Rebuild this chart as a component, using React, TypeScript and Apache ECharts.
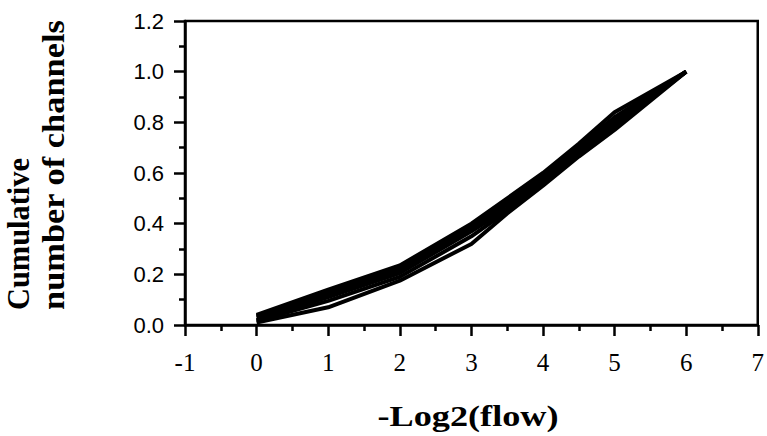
import React, { useEffect, useRef } from "react";
import * as echarts from "echarts";

const xValues = [0, 1, 2, 3, 3.5, 4, 4.5, 5, 6];
const run1 = [0.04, 0.14, 0.235, 0.4, 0.5, 0.6, 0.715, 0.84, 1.0];
const run2 = [0.035, 0.13, 0.225, 0.39, 0.49, 0.59, 0.705, 0.82, 1.0];
const run3 = [0.03, 0.12, 0.215, 0.38, 0.475, 0.58, 0.695, 0.81, 1.0];
const run4 = [0.02, 0.11, 0.205, 0.37, 0.46, 0.57, 0.685, 0.795, 1.0];
const run5 = [0.015, 0.095, 0.19, 0.35, 0.45, 0.56, 0.675, 0.78, 1.0];
const run6 = [0.01, 0.07, 0.175, 0.32, 0.44, 0.55, 0.665, 0.77, 1.0];
const runs = [run1, run2, run3, run4, run5, run6];

const xTitle = "-Log2(flow)";
const yTitle1 = "Cumulative";
const yTitle2 = "number of channels";

export default function App() {
  const ref = useRef<HTMLDivElement>(null);
  useEffect(() => {
    document.body.style.margin = "0";
    if (!ref.current) return;
    const chart = echarts.init(ref.current, null, { renderer: "svg" });
    const axisLine = { show: true, onZero: false, lineStyle: { color: "#000", width: 2.5 } };
    chart.setOption({
      animation: false,
      backgroundColor: "#fff",
      grid: {
        left: 185,
        right: 9,
        top: 21,
        bottom: 111,
        show: true,
        borderColor: "#000",
        borderWidth: 2.5,
        backgroundColor: "transparent",
      },
      xAxis: {
        type: "value",
        min: -1,
        max: 7,
        interval: 1,
        axisLine,
        axisTick: { show: true, length: 11, lineStyle: { color: "#000", width: 2.5 } },
        minorTick: { show: true, splitNumber: 2, length: 6, lineStyle: { color: "#000", width: 2.5 } },
        splitLine: { show: false },
        axisLabel: {
          color: "#000",
          fontFamily: "Liberation Serif",
          fontSize: 25,
          margin: 25,
        },
      },
      yAxis: {
        type: "value",
        min: 0,
        max: 1.2,
        interval: 0.2,
        axisLine,
        axisTick: { show: true, length: 11, lineStyle: { color: "#000", width: 2.5 } },
        minorTick: { show: true, splitNumber: 2, length: 6, lineStyle: { color: "#000", width: 2.5 } },
        splitLine: { show: false },
        axisLabel: {
          color: "#000",
          fontFamily: "Liberation Sans",
          fontSize: 22,
          margin: 21,
          formatter: (v: number) => v.toFixed(1),
        },
      },
      graphic: [
        {
          type: "text",
          x: 19,
          y: 310,
          rotation: Math.PI / 2,
          scaleX: 0.98,
          style: {
            text: yTitle1,
            fill: "#000",
            font: "bold 31px 'Liberation Serif'",
            textAlign: "left",
            textVerticalAlign: "middle",
          },
        },
        {
          type: "text",
          x: 54,
          y: 310,
          rotation: Math.PI / 2,
          scaleX: 1.11,
          style: {
            text: yTitle2,
            fill: "#000",
            font: "bold 31px 'Liberation Serif'",
            textAlign: "left",
            textVerticalAlign: "middle",
          },
        },
        {
          type: "text",
          x: 468,
          y: 416,
          scaleX: 1.25,
          style: {
            text: xTitle,
            fill: "#000",
            font: "bold 29px 'Liberation Serif'",
            textAlign: "center",
            textVerticalAlign: "middle",
          },
        },
      ],
      series: runs.map((r, i) => ({
        name: "run" + (i + 1),
        type: "line",
        showSymbol: false,
        symbol: "none",
        lineStyle: { color: "#000", width: 4 },
        data: xValues.map((x, j) => [x, r[j]]),
      })),
    });
    return () => chart.dispose();
  }, []);
  return <div ref={ref} style={{ width: 767, height: 436 }} />;
}
